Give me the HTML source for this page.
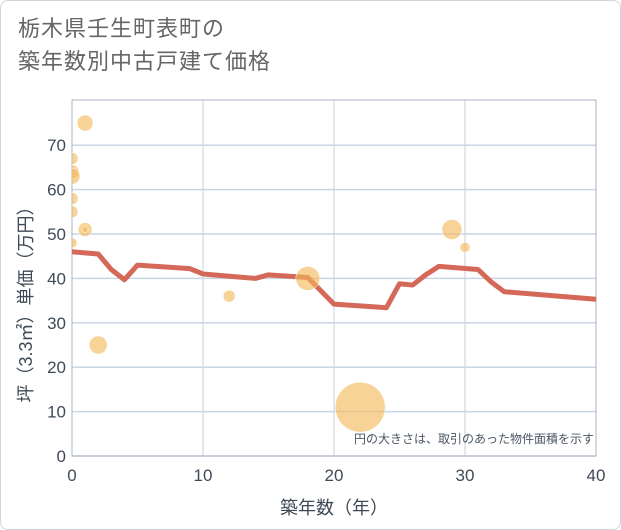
<!DOCTYPE html>
<html><head><meta charset="utf-8"><style>
body{margin:0;background:#fff;}
#wrap{width:619px;height:528px;border:1px solid #cfd6de;border-radius:8px;position:relative;overflow:hidden;font-family:"Liberation Sans","Noto Sans CJK JP",sans-serif;}
h1{position:absolute;left:17px;top:11px;margin:0;font-size:22px;font-weight:normal;color:#666;line-height:33px;letter-spacing:1px;}
</style></head><body>
<div id="wrap">
<h1>栃木県壬生町表町の<br>築年数別中古戸建て価格</h1>
<svg id="c" width="621" height="530" style="position:absolute;left:-1px;top:-1px"><defs><clipPath id="pc"><rect x="72" y="100" width="524" height="356"/></clipPath></defs><g id="bub" clip-path="url(#pc)"></g></svg>
</div>
<script>
const xTicks=[0,10,20,30,40];
const yTicks=[0,10,20,30,40,50,60,70];
const lineX=[0,2,3,4,5,9,10,14,15,18,20,24,25,26,27,28,31,32,33,40];
const lineY=[46,45.5,42,39.7,43,42.2,41,40,40.8,40.2,34.2,33.4,38.8,38.5,40.8,42.7,42,39.2,37,35.3];
const bubX=[1,0,0,0,0,0,1,0,2,12,18,22,29,30,1];
const bubY=[75,67,64,63,58,55,51,48,25,36,40,11,51,47,51];
const bubR=[8,6,7,8,6,6,7,5,9,6,12,25,10,5,3];
const NS='http://www.w3.org/2000/svg';
const svg=document.getElementById('c');
const bg=document.getElementById('bub');
const X0=72,X1=596,Y0=456,PY=4.44,T=100;
const sx=v=>X0+(X1-X0)*v/40, sy=v=>Y0-PY*v;
function mk(t,a,p){const e=document.createElementNS(NS,t);for(const k in a)e.setAttribute(k,a[k]);(p||svg).appendChild(e);return e;}
xTicks.forEach(v=>{
 const l=mk('line',{x1:sx(v),x2:sx(v),y1:T,y2:Y0,stroke:'#c8d2de','stroke-width':1});
 
 
 const t=mk('text',{x:sx(v),y:Y0+25,'text-anchor':'middle','font-size':17,fill:'#3f4a57'});t.textContent=v;
 
 
});
yTicks.forEach(v=>{
 const l=mk('line',{x1:X0,x2:X1,y1:sy(v),y2:sy(v),stroke:'#c8d6e6','stroke-width':1.5});
 
 
 const t=mk('text',{x:X0-6,y:sy(v)+6,'text-anchor':'end','font-size':17,fill:'#3f4a57'});t.textContent=v;
 
 
});
const fr=mk('rect',{x:X0,y:T,width:X1-X0,height:Y0-T,fill:'none',stroke:'#aab4c0'});


const ln=mk('polyline',{points:lineX.map((x,i)=>sx(x)+','+sy(lineY[i])).join(' '),fill:'none',stroke:'#d4695a','stroke-width':5,'stroke-linejoin':'round'});


svg.appendChild(bg);
bubX.forEach((x,i)=>{
 const c=mk('circle',{cx:sx(x),cy:sy(bubY[i]),r:bubR[i],fill:'#f4b859','fill-opacity':0.62,stroke:'#fff','stroke-width':0.5},bg);
 
 
});
const n=mk('text',{x:594,y:443,'text-anchor':'end','font-size':12,fill:'#4a5563'});n.textContent='円の大きさは、取引のあった物件面積を示す';


const xt=mk('text',{x:334,y:514,'text-anchor':'middle','font-size':18,fill:'#3f4a57'});xt.textContent='築年数（年）';


const yt=mk('text',{x:0,y:0,'text-anchor':'middle','font-size':18,fill:'#3f4a57',transform:'translate(32,300) rotate(-90)'});yt.textContent='坪（3.3㎡）単価（万円）';


</script>
</body></html>
